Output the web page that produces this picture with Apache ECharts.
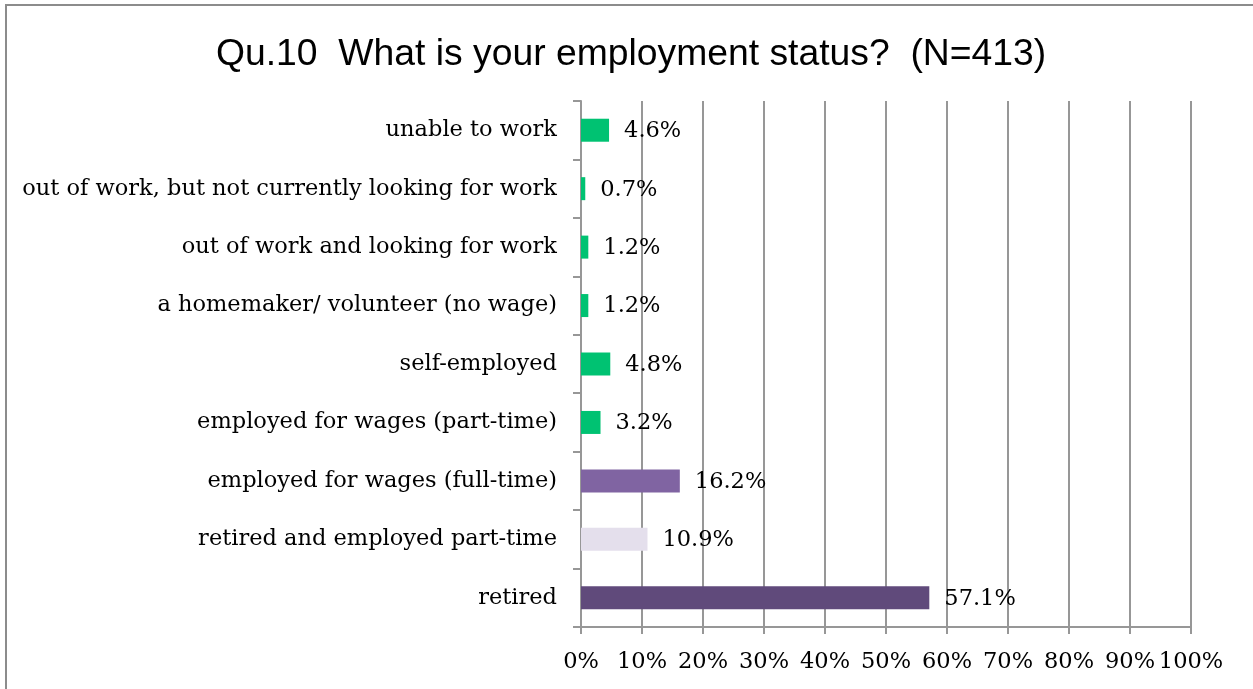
<!DOCTYPE html>
<html>
<head>
<meta charset="utf-8">
<script src="https://cdn.jsdelivr.net/npm/echarts@6/dist/echarts.min.js"></script>
<style>
  html, body { margin: 0; padding: 0; background: #fff; }
  #chart { width: 1253px; height: 689px; }
</style>
</head>
<body>
<div id="chart"></div>
<script>
// Employment status responses, top row first
const categories = [
  'unable to work',
  'out of work, but not currently looking for work',
  'out of work and looking for work',
  'a homemaker/ volunteer (no wage)',
  'self-employed',
  'employed for wages (part-time)',
  'employed for wages (full-time)',
  'retired and employed part-time',
  'retired'
];
const percentages = [4.6, 0.7, 1.2, 1.2, 4.8, 3.2, 16.2, 10.9, 57.1];
const barColors = [
  '#00C272', '#00C272', '#00C272', '#00C272', '#00C272', '#00C272',
  '#8064A2', '#E4DFEC', '#604A7B'
];
const titleText = 'Qu.10  What is your employment status?  (N=413)';

const serif = 'DejaVu Serif';
const serifSize = 22.5;
const gridGray = '#979797';

const chart = echarts.init(document.getElementById('chart'), null, { renderer: 'canvas' });
chart.setOption({
  animation: false,
  backgroundColor: '#fff',
  title: {
    text: titleText,
    left: 211,
    top: 31,
    textStyle: { fontFamily: 'Liberation Sans', fontSize: 37.3, fontWeight: 'normal', color: '#000' }
  },
  graphic: [{
    type: 'rect',
    shape: { x: 6, y: 5, width: 1270, height: 710 },
    style: { fill: 'none', stroke: '#8c8c8c', lineWidth: 2 },
    silent: true
  }],
  grid: { left: 581, right: 62, top: 101, bottom: 62, containLabel: false },
  xAxis: {
    type: 'value',
    min: 0,
    max: 100,
    interval: 10,
    axisLine: { show: true, lineStyle: { color: gridGray, width: 2 } },
    axisTick: { show: true, length: 7, lineStyle: { color: gridGray, width: 2 } },
    splitLine: { show: true, lineStyle: { color: gridGray, width: 2 } },
    axisLabel: {
      formatter: '{value}%',
      fontFamily: serif,
      fontSize: serifSize,
      color: '#000',
      margin: 24
    }
  },
  yAxis: {
    type: 'category',
    inverse: true,
    data: categories,
    axisLine: { show: true, lineStyle: { color: gridGray, width: 2 } },
    axisTick: { show: true, length: 8, lineStyle: { color: gridGray, width: 2 } },
    axisLabel: {
      fontFamily: serif,
      fontSize: serifSize,
      color: '#000',
      margin: 24
    }
  },
  series: [{
    type: 'bar',
    data: percentages.map((v, i) => ({ value: v, itemStyle: { color: barColors[i] } })),
    barWidth: 23,
    label: {
      show: true,
      position: 'right',
      distance: 15,
      offset: [0, 1],
      formatter: p => p.value.toFixed(1) + '%',
      fontFamily: serif,
      fontSize: serifSize,
      color: '#000'
    }
  }]
});
</script>
</body>
</html>
